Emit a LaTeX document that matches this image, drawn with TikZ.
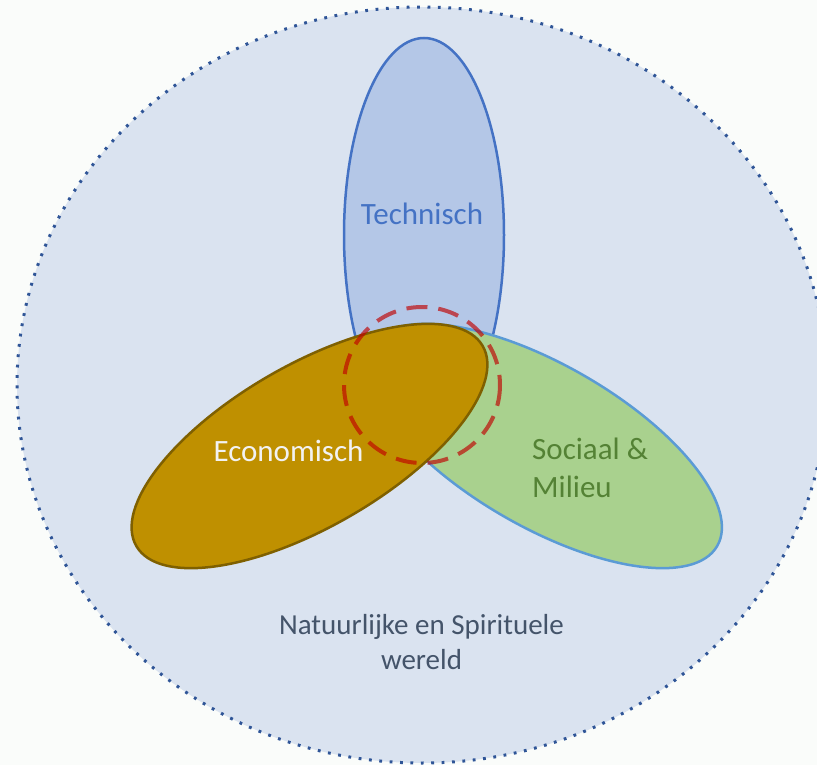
\documentclass[tikz,border=0pt]{standalone}
\usepackage{fontspec}
\setmainfont{Carlito}
\definecolor{bgc}{RGB}{250,252,250}
\definecolor{worldfill}{RGB}{218,227,240}
\definecolor{worlddot}{RGB}{47,85,151}
\definecolor{techfill}{RGB}{180,199,231}
\definecolor{techline}{RGB}{68,114,196}
\definecolor{ecofill}{RGB}{191,144,0}
\definecolor{ecoline}{RGB}{127,96,0}
\definecolor{socfill}{RGB}{169,209,142}
\definecolor{socline}{RGB}{91,155,213}
\definecolor{socText}{RGB}{84,130,53}
\definecolor{ecoText}{RGB}{242,242,242}
\definecolor{worldText}{RGB}{68,84,106}
\definecolor{focus}{RGB}{192,0,0}
\tikzset{
  blob/.style={line width=2.5pt},
  lbl/.style={inner sep=0pt, font=\fontsize{31}{38}\selectfont},
  worldlbl/.style={inner sep=0pt, align=center, text=worldText, font=\fontsize{29}{35}\selectfont}
}
\begin{document}
\begin{tikzpicture}[x=1pt,y=-1pt]
\useasboundingbox (0,0) rectangle (817,765);
\clip (0,0) rectangle (817,765);
\fill[bgc] (0,0) rectangle (817,765);
% world
\path[fill=worldfill, draw=worlddot, line width=3pt, dash pattern=on 2.8pt off 7.6pt]
  (422,385) ellipse [x radius=405, y radius=378];
% technisch
\path[blob, fill=techfill, draw=techline] (424,235) ellipse [x radius=80, y radius=197];
% sociaal & milieu
\path[blob, fill=socfill, draw=socline, rotate around={-30:(544,446)}]
  (544,446) ellipse [x radius=200, y radius=81];
% economisch
\path[blob, fill=ecofill, draw=ecoline, rotate around={30:(309.5,446)}]
  (309.5,446) ellipse [x radius=200, y radius=81];
% focus circle
\draw[draw=focus, draw opacity=0.65, line width=4pt, dash pattern=on 21pt off 11pt]
  (422,385) circle [radius=78];
% labels
\node[lbl, text=techline, anchor=base] (tech) at (422,224) {Technisch};
\node[lbl, text=ecoText, anchor=base] (eco) at (288.5,461) {Economisch};
\node[lbl, text=socText, anchor=west, align=left] (soc) at (532,468) {Sociaal \&\\Milieu};
\node[worldlbl] (world) at (421.5,642) {Natuurlijke en Spirituele\\wereld};
\end{tikzpicture}
\end{document}
